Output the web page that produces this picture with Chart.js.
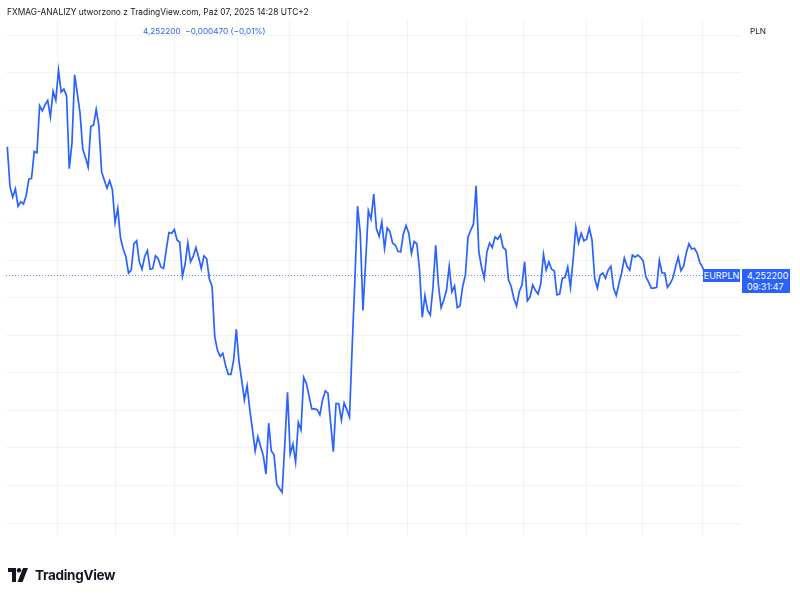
<!DOCTYPE html>
<html>
<head>
<meta charset="utf-8">
<script src="https://cdn.jsdelivr.net/npm/chart.js@4/dist/chart.umd.min.js"></script>
<style>
  html, body { margin: 0; padding: 0; background: #fff; }
  body { width: 800px; height: 595px; position: relative; overflow: hidden; font-family: 'Inter', 'Roboto', sans-serif; color: #131722; }
  #wrap { position: absolute; left: 0; top: 0; width: 800px; height: 595px; }
  .hdr { position: absolute; left: 7px; top: 7px; font-size: 8.4px; white-space: nowrap; }
  .quote { position: absolute; left: 143px; top: 26px; font-size: 8.2px; color: #2962ff; white-space: pre; }
  .cur { position: absolute; left: 750px; top: 26px; font-size: 8.2px; }
  .tag { position: absolute; background: #2962ff; color: #fff; font-size: 9px; line-height: 11px; }
  #sym { left: 703px; width: 37px; height: 13px; line-height: 13px; text-align: center; }
  #px { left: 742px; width: 48px; height: 24px; padding: 1px 0 0 5px; box-sizing: border-box; }
  .logo { position: absolute; left: 8px; top: 567px; display: flex; align-items: center; }
  .logo span { font-size: 13.5px; font-weight: 700; letter-spacing: -0.3px; margin-left: 5px; }
</style>
</head>
<body>
<div id="wrap"><canvas id="chart" width="800" height="595"></canvas></div>
<div class="hdr">FXMAG-ANALIZY utworzono z TradingView.com, Paź 07, 2025 14:28 UTC+2</div>
<div class="quote">4,252200  −0,000470 (−0,01%)</div>
<div class="cur">PLN</div>
<div class="tag" id="sym">EURPLN</div>
<div class="tag" id="px">4,252200<br>09:31:47</div>
<div class="logo">
  <svg width="22" height="14" viewBox="0 0 22 14">
    <path d="M0 0h8v14H4V4H0z" fill="#131722"/>
    <circle cx="11" cy="2.2" r="2.2" fill="#131722"/>
    <path d="M15 0h5l-5.5 14H9.5z" fill="#131722"/>
  </svg>
  <span>TradingView</span>
</div>
<script>
// EURPLN daily close
var closes = [
  4.2692, 4.2639, 4.2625, 4.2636, 4.2613, 4.2619, 4.2616, 4.2627, 4.2649, 4.2650,
  4.2686, 4.2684, 4.2747, 4.2740, 4.2748, 4.2754, 4.2732, 4.2766, 4.2754, 4.2794,
  4.2765, 4.2769, 4.2760, 4.2663, 4.2697, 4.2788, 4.2763, 4.2737, 4.2689, 4.2678,
  4.2665, 4.2719, 4.2721, 4.2742, 4.2720, 4.2659, 4.2648, 4.2637, 4.2647, 4.2635,
  4.2591, 4.2610, 4.2571, 4.2556, 4.2546, 4.2524, 4.2528, 4.2563, 4.2567, 4.2539,
  4.2529, 4.2546, 4.2554, 4.2529, 4.2530, 4.2547, 4.2543, 4.2532, 4.2530, 4.2555,
  4.2578, 4.2577, 4.2582, 4.2568, 4.2565, 4.2520, 4.2536, 4.2564, 4.2539, 4.2546,
  4.2558, 4.2545, 4.2530, 4.2547, 4.2543, 4.2516, 4.2506, 4.2439, 4.2421, 4.2413,
  4.2417, 4.2401, 4.2389, 4.2389, 4.2408, 4.2449, 4.2406, 4.2381, 4.2355, 4.2374,
  4.2342, 4.2315, 4.2287, 4.2306, 4.2293, 4.2281, 4.2256, 4.2324, 4.2287, 4.2282,
  4.2243, 4.2237, 4.2232, 4.2297, 4.2365, 4.2283, 4.2296, 4.2272, 4.2325, 4.2315,
  4.2385, 4.2377, 4.2360, 4.2343, 4.2343, 4.2342, 4.2335, 4.2355, 4.2367, 4.2364,
  4.2324, 4.2286, 4.2350, 4.2350, 4.2328, 4.2351, 4.2342, 4.2332, 4.2426, 4.2515,
  4.2613, 4.2577, 4.2474, 4.2539, 4.2607, 4.2596, 4.2629, 4.2583, 4.2573, 4.2592,
  4.2557, 4.2584, 4.2579, 4.2564, 4.2561, 4.2553, 4.2552, 4.2576, 4.2587, 4.2577,
  4.2550, 4.2566, 4.2563, 4.2528, 4.2465, 4.2494, 4.2474, 4.2468, 4.2506, 4.2561,
  4.2508, 4.2478, 4.2488, 4.2501, 4.2533, 4.2499, 4.2507, 4.2478, 4.2480, 4.2506,
  4.2521, 4.2572, 4.2581, 4.2589, 4.2640, 4.2552, 4.2532, 4.2517, 4.2552, 4.2564,
  4.2558, 4.2572, 4.2569, 4.2575, 4.2558, 4.2555, 4.2515, 4.2506, 4.2490, 4.2480,
  4.2499, 4.2508, 4.2539, 4.2487, 4.2492, 4.2508, 4.2501, 4.2496, 4.2510, 4.2549,
  4.2528, 4.2539, 4.2529, 4.2527, 4.2495, 4.2496, 4.2517, 4.2518, 4.2532, 4.2505,
  4.2542, 4.2585, 4.2564, 4.2577, 4.2567, 4.2569, 4.2584, 4.2568, 4.2517, 4.2504,
  4.2521, 4.2524, 4.2517, 4.2528, 4.2533, 4.2504, 4.2494, 4.2510, 4.2524, 4.2544,
  4.2533, 4.2528, 4.2548, 4.2545, 4.2548, 4.2545, 4.2540, 4.2519, 4.2512, 4.2504,
  4.2504, 4.2505, 4.2541, 4.2524, 4.2524, 4.2505, 4.2510, 4.2517, 4.2532, 4.2545,
  4.2527, 4.2533, 4.2551, 4.2563, 4.2556, 4.2557, 4.2551, 4.2538, 4.2532, 4.2522
];
var dayIdx = closes.map(function (v, i) { return i; });

// price grid levels (no labels shown on the picture)
var priceGrid = [4.2841, 4.2791, 4.2741, 4.2691, 4.2641, 4.2591, 4.2541,
                 4.2491, 4.2441, 4.2391, 4.2341, 4.2291, 4.2241, 4.2191];
// month boundaries, as bar index
var monthGrid = [18.8, 40.3, 61.9, 85.3, 104.9, 126.1, 148.4, 170.6, 191.4, 214.8, 235.6, 257.9];

var lastPricePlugin = {
  id: 'lastPrice',
  afterDatasetsDraw: function (chart) {
    var ctx = chart.ctx, area = chart.chartArea;
    var y = Math.round(chart.scales.y.getPixelForValue(closes[closes.length - 1])) + 0.5;
    ctx.save();
    ctx.strokeStyle = 'rgba(41, 98, 255, 0.75)';
    ctx.lineWidth = 1;
    ctx.setLineDash([1, 2]);
    ctx.beginPath();
    ctx.moveTo(area.left, y);
    ctx.lineTo(area.right, y);
    ctx.stroke();
    ctx.restore();
    document.getElementById('sym').style.top = Math.round(y - 6.5) + 'px';
    document.getElementById('px').style.top = Math.round(y - 6.5) + 'px';
  }
};

new Chart(document.getElementById('chart'), {
  type: 'line',
  data: {
    labels: dayIdx,
    datasets: [{
      data: closes,
      borderColor: '#2962ff',
      borderWidth: 1.7,
      pointRadius: 0,
      tension: 0,
      fill: false
    }]
  },
  options: {
    responsive: false,
    animation: false,
    layout: { padding: { left: 6, right: 59, top: 20, bottom: 58 } },
    plugins: { legend: { display: false }, tooltip: { enabled: false } },
    scales: {
      x: {
        type: 'linear',
        min: -0.48,
        max: 272.3,
        border: { display: false },
        grid: { color: 'rgba(42, 46, 57, 0.06)', drawTicks: false },
        ticks: { display: false },
        afterBuildTicks: function (s) { s.ticks = monthGrid.map(function (v) { return { value: v }; }); }
      },
      y: {
        min: 4.21724,
        max: 4.28610,
        border: { display: false },
        grid: { color: 'rgba(42, 46, 57, 0.06)', drawTicks: false },
        ticks: { display: false },
        afterBuildTicks: function (s) { s.ticks = priceGrid.map(function (v) { return { value: v }; }); }
      }
    }
  },
  plugins: [lastPricePlugin]
});
</script>
</body>
</html>
